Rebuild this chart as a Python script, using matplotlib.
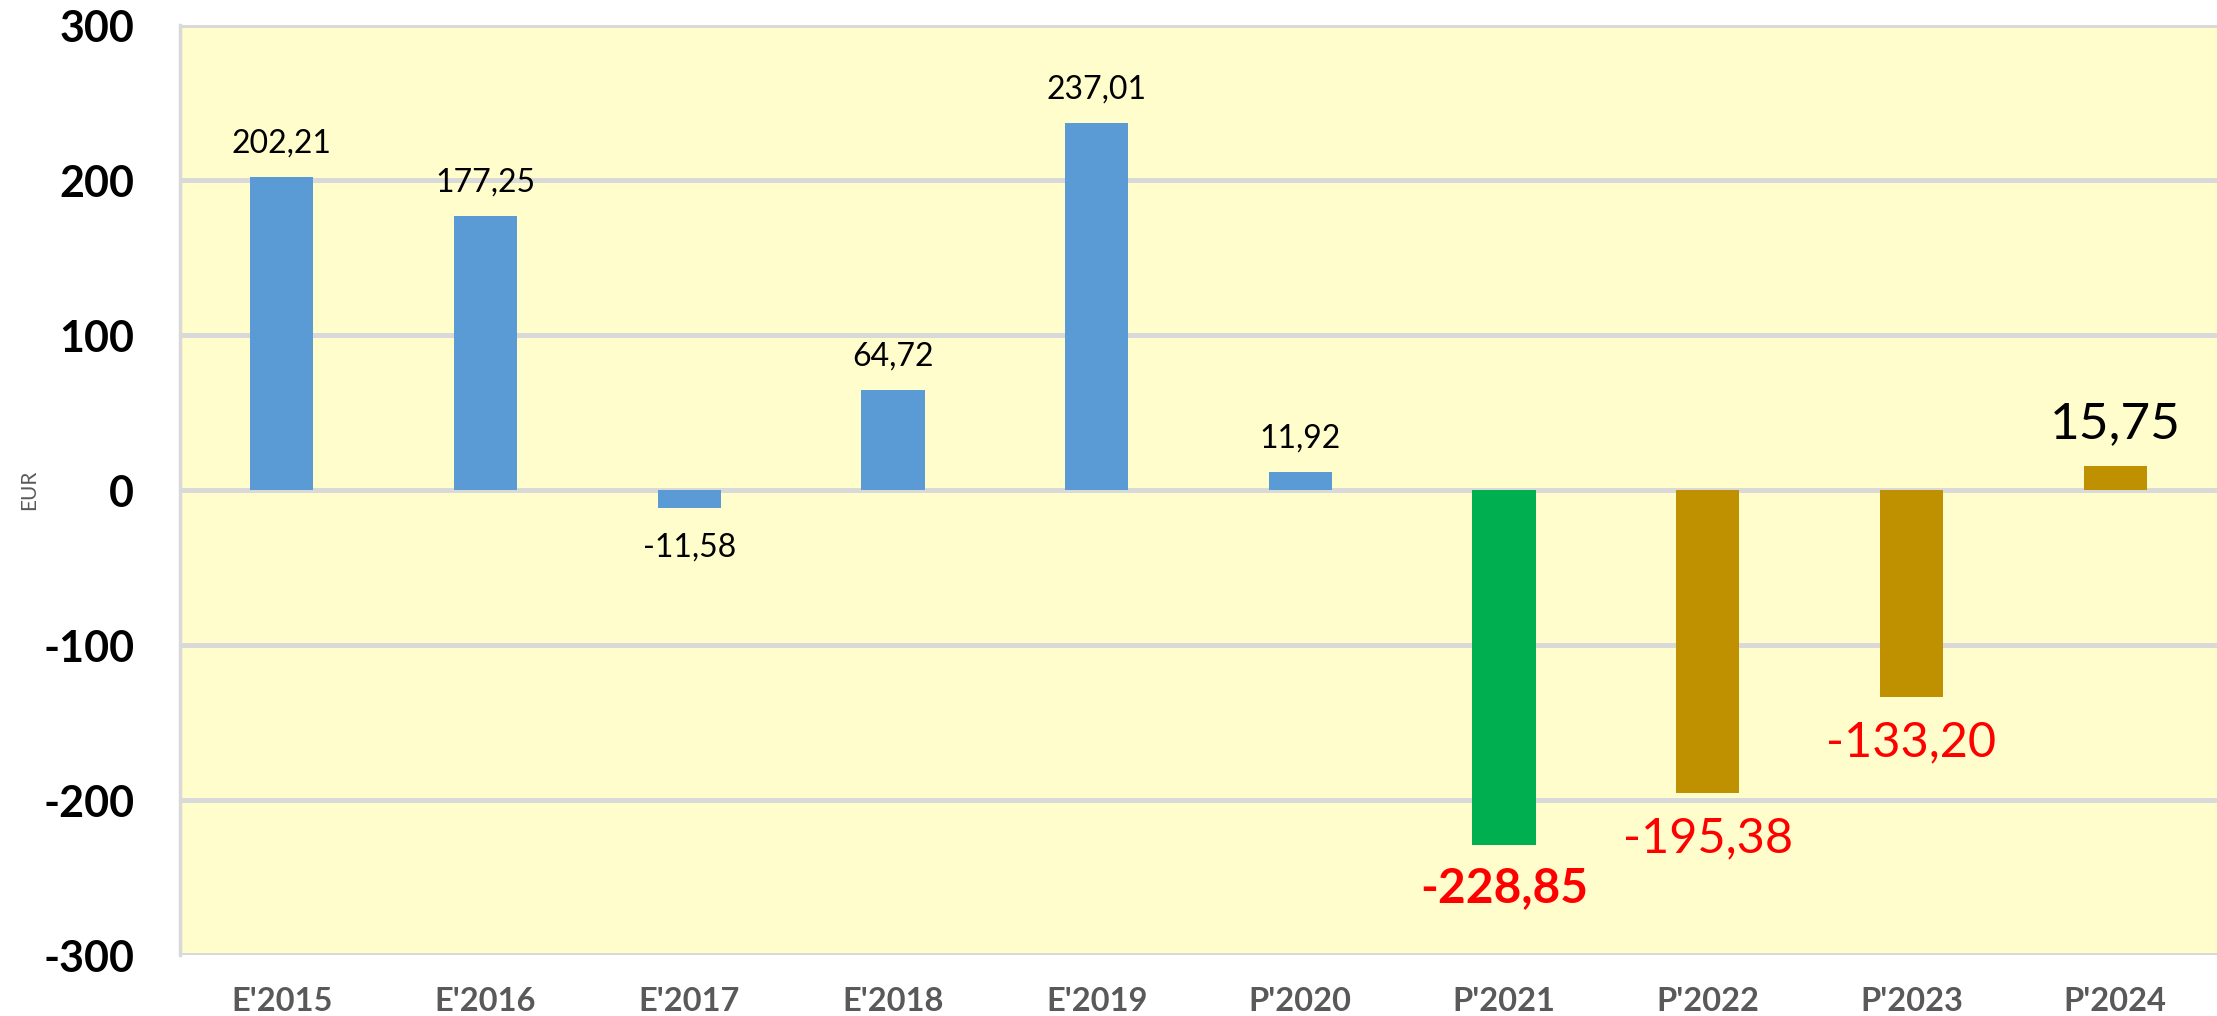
import matplotlib.pyplot as plt

# data
categories = ["E'2015", "E'2016", "E'2017", "E'2018", "E'2019",
              "P'2020", "P'2021", "P'2022", "P'2023", "P'2024"]
values = [202.21, 177.25, -11.58, 64.72, 237.01, 11.92, -228.85, -195.38, -133.20, 15.75]
bar_colors = ['#5B9BD5'] * 6 + ['#00B050', '#BF9000', '#BF9000', '#BF9000']
label_colors = ['black'] * 6 + ['#FF0000', '#FF0000', '#FF0000', 'black']
label_sizes = [23] * 6 + [34.5, 35, 35, 37]
label_weights = ['normal'] * 6 + ['bold', 'normal', 'normal', 'normal']
y_ticks = [-300, -200, -100, 0, 100, 200, 300]

plt.rcParams['font.family'] = ['Lato', 'DejaVu Sans']

fig = plt.figure(figsize=(22.17, 10.16), dpi=100)
ax = fig.add_axes([0.0812, 0.060, 0.9188, 0.915])
ax.set_facecolor('#FFFDCB')

x = range(len(categories))
ax.bar(x, values, width=0.31, color=bar_colors, zorder=3)

# gridlines
for t in y_ticks:
    ax.axhline(t, color='#D9D9D9', lw=3.6, zorder=1)

ax.set_xlim(-0.5, len(categories) - 0.5)
ax.set_ylim(-300, 300)
ax.set_yticks(y_ticks)
ax.set_yticklabels([str(t) for t in y_ticks], fontsize=31, fontweight='bold')
ax.set_xticks(list(x))
ax.set_xticklabels(categories, fontsize=23.5, fontweight='bold', color='#595959')
ax.tick_params(axis='y', length=0, pad=33)
ax.tick_params(axis='x', length=0, pad=23)

for s in ['top', 'right', 'bottom']:
    ax.spines[s].set_visible(False)
ax.spines['left'].set_color('#D9D9D9')
ax.spines['left'].set_linewidth(2.5)

ax.set_ylabel('EUR', fontsize=15, color='#595959')
ax.yaxis.set_label_coords(-0.069, 0.5)

# data labels
for i, v in enumerate(values):
    txt = f'{v:.2f}'.replace('.', ',')
    if i < 6:
        off = 24 if v > 0 else -28
    elif i == 9:
        off = 30
    else:
        off = -33 if i != 6 else -31
    ax.annotate(txt, (i, v), xytext=(0, off), textcoords='offset points',
                ha='center', va='center', fontsize=label_sizes[i],
                color=label_colors[i], fontweight=label_weights[i], zorder=4)

fig.savefig('out.png', dpi=100)
